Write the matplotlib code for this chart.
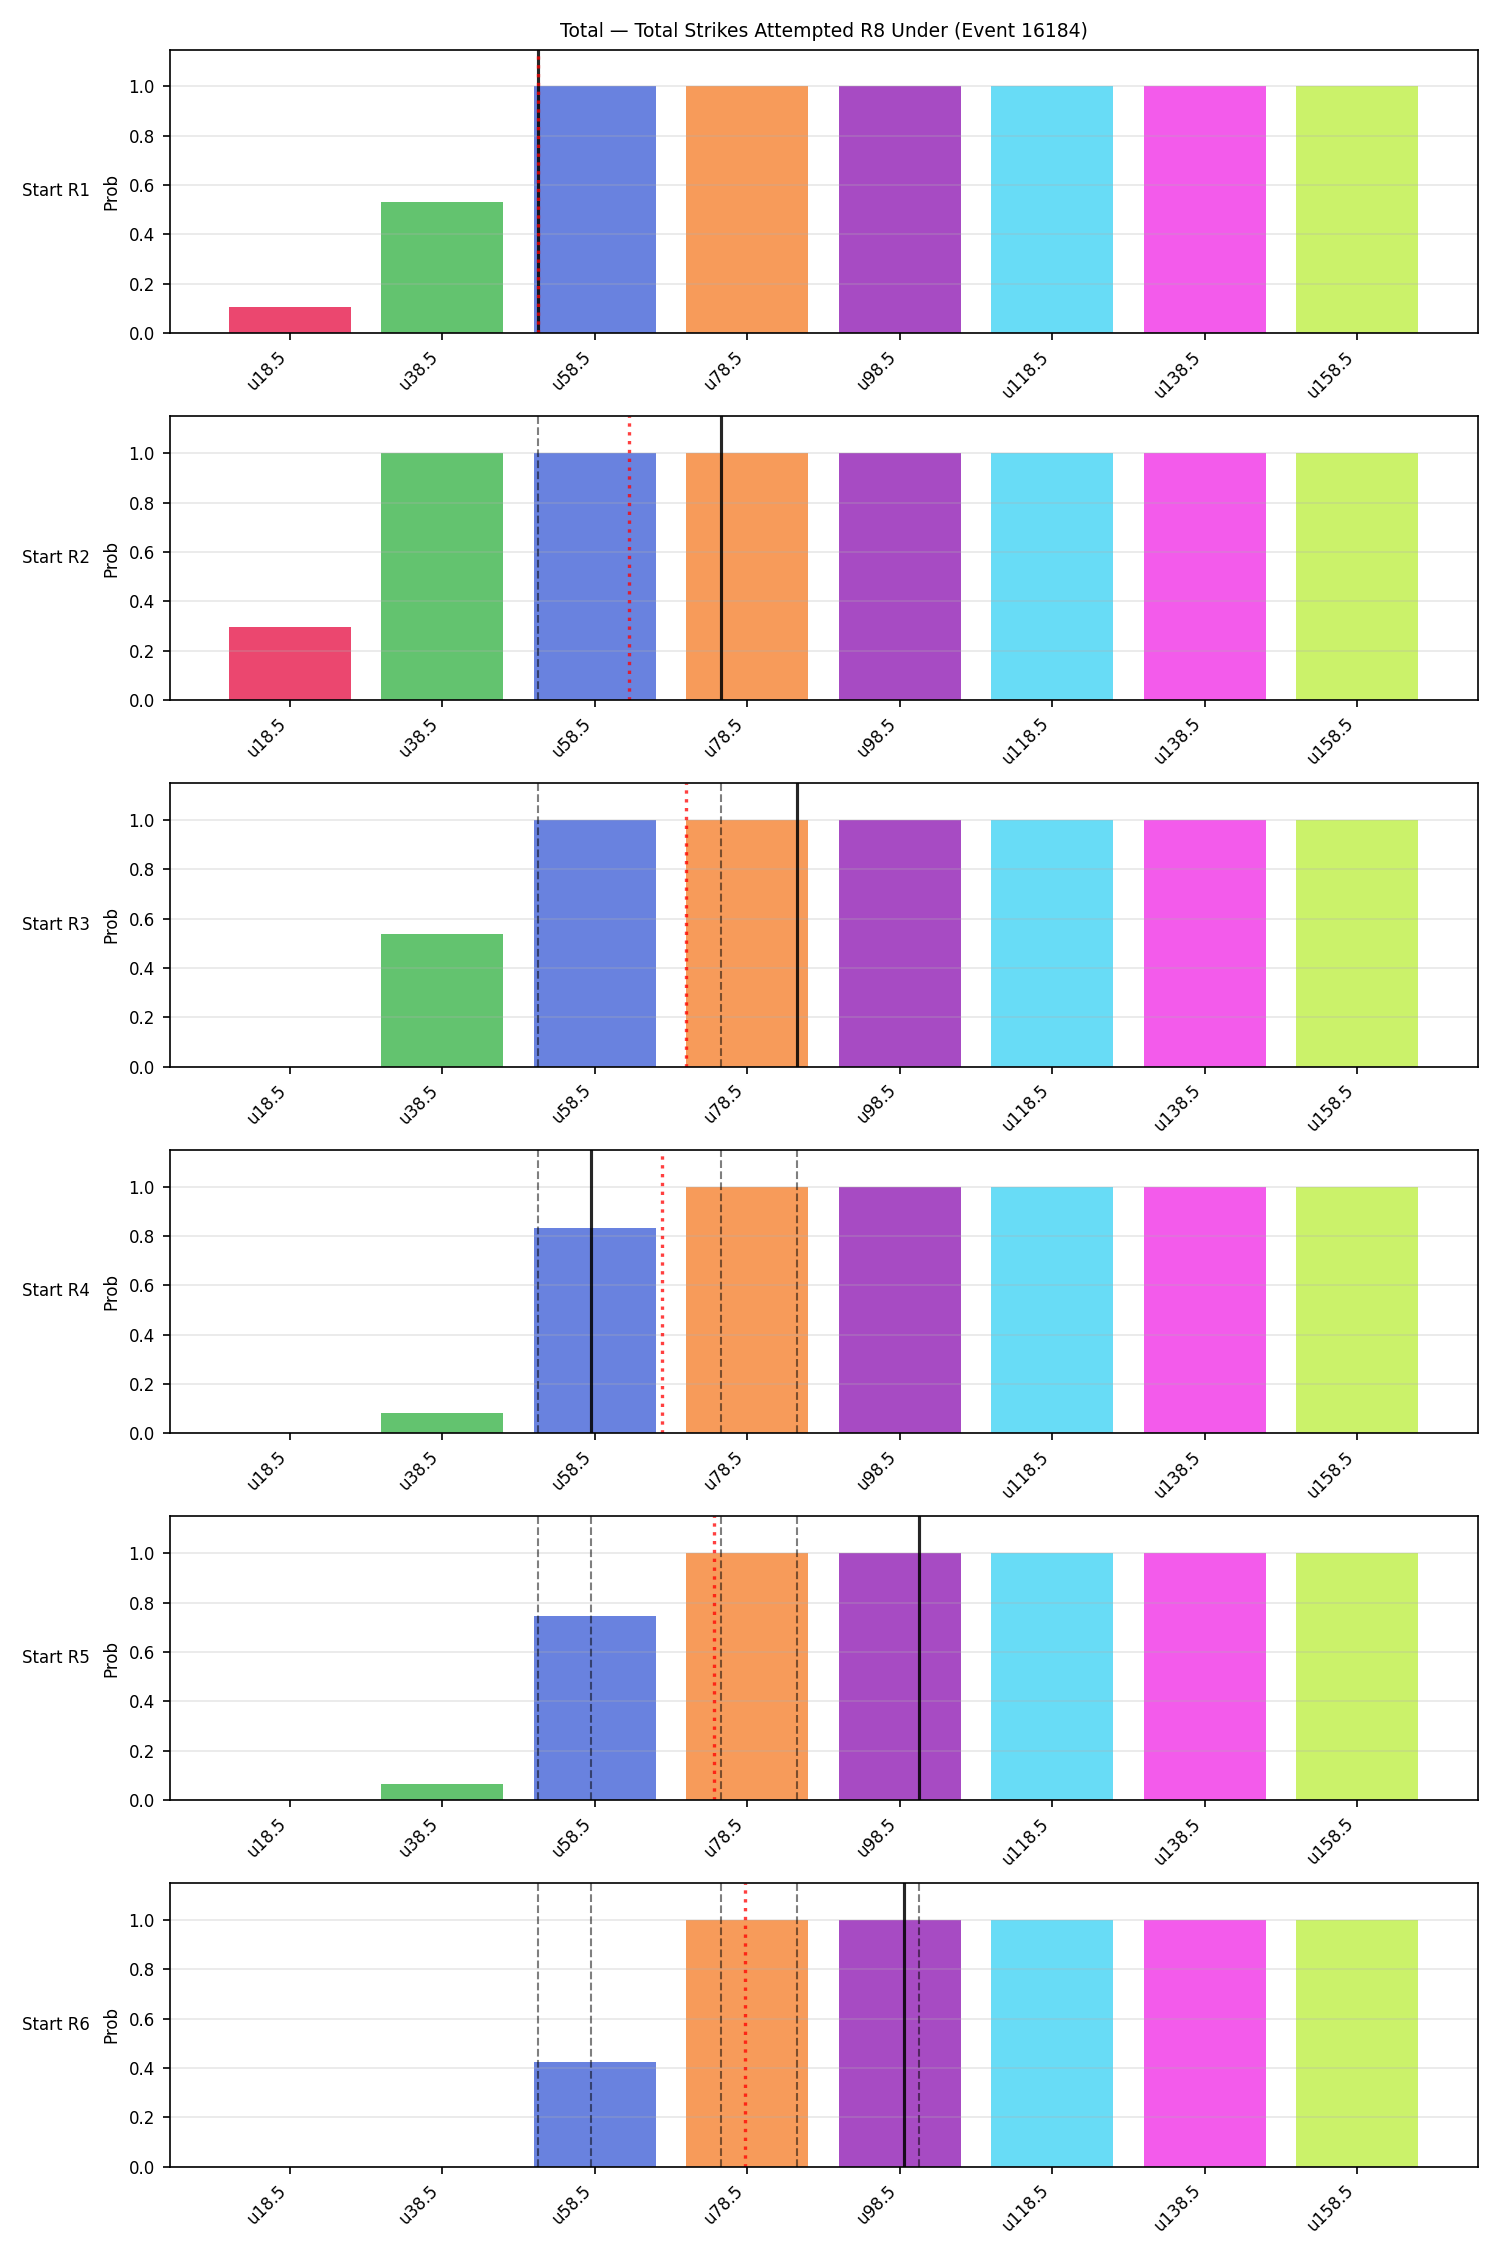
import numpy as np
import matplotlib
matplotlib.use("Agg")
import matplotlib.pyplot as plt

title = "Total \u2014 Total Strikes Attempted R8 Under (Event 16184)"
strikes = [18.5, 38.5, 58.5, 78.5, 98.5, 118.5, 138.5, 158.5]
tick_labels = ["u18.5", "u38.5", "u58.5", "u78.5", "u98.5", "u118.5", "u138.5", "u158.5"]
row_labels = ["Start R1", "Start R2", "Start R3", "Start R4", "Start R5", "Start R6"]

probs_r1 = [0.105, 0.532, 1, 1, 1, 1, 1, 1]
probs_r2 = [0.295, 1, 1, 1, 1, 1, 1, 1]
probs_r3 = [0.0, 0.537, 1, 1, 1, 1, 1, 1]
probs_r4 = [0.0, 0.083, 0.831, 1, 1, 1, 1, 1]
probs_r5 = [0.0, 0.067, 0.745, 1, 1, 1, 1, 1]
probs_r6 = [0.0, 0.0, 0.426, 1, 1, 1, 1, 1]
probs = [probs_r1, probs_r2, probs_r3, probs_r4, probs_r5, probs_r6]

# current value (solid black) per row; previous rows' values become dashed
actual = [51.0, 75.0, 85.0, 58.0, 101.0, 99.0]
# projection (red dotted) per row
projected = [51.0, 63.0, 70.4, 67.3, 74.1, 78.2]

colors = ["#e6194b", "#3cb44b", "#4363d8", "#f58231", "#911eb4", "#42d4f4", "#f032e6", "#bfef45"]

fig, axes = plt.subplots(6, 1, figsize=(10, 15), dpi=150)
fig.subplots_adjust(left=0.113, right=0.985, top=0.978, bottom=0.037, hspace=0.293)

idx = np.arange(len(strikes))

def to_pos(v):
    return np.interp(v, strikes, idx)

for r, ax in enumerate(axes):
    ax.bar(idx, probs[r], width=0.8, color=colors, alpha=0.8)
    ax.set_ylim(0, 1.15)
    ax.set_yticks([0, 0.2, 0.4, 0.6, 0.8, 1.0])
    ax.set_yticklabels(["0.0", "0.2", "0.4", "0.6", "0.8", "1.0"], fontsize=8)
    ax.set_xticks(idx)
    ax.set_xticklabels(tick_labels, rotation=45, ha="right", fontsize=8)
    ax.grid(axis="y", alpha=0.3)
    ax.set_ylabel("Prob", fontsize=8)
    for prev in actual[:r]:
        ax.axvline(to_pos(prev), color="black", ls="--", lw=1.0, alpha=0.5)
    ax.axvline(to_pos(actual[r]), color="black", ls="-", lw=1.5, alpha=0.85)
    ax.axvline(to_pos(projected[r]), color="red", ls=":", lw=1.6, alpha=0.75)
    ax.text(-0.061, 0.5, row_labels[r], transform=ax.transAxes, ha="right", va="center", fontsize=8)

axes[0].set_title(title, fontsize=9)

fig.savefig("out.png", dpi=150)
